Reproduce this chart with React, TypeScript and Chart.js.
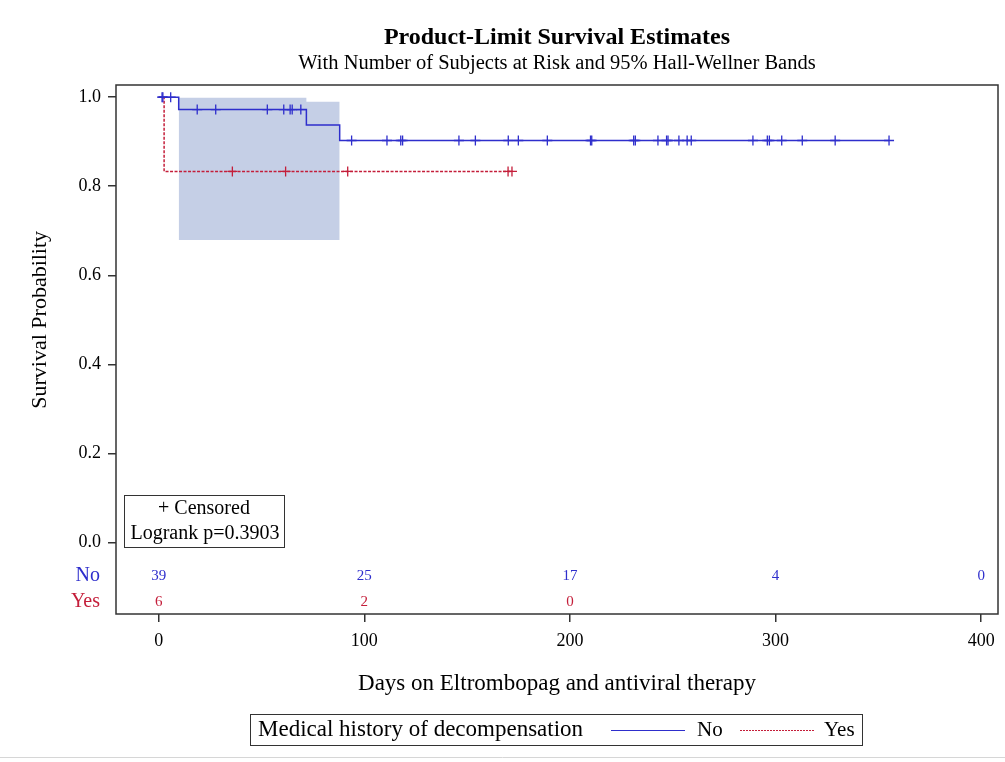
import React, { useEffect, useRef } from 'react';
import { Chart, registerables } from 'chart.js';

Chart.register(...registerables);

const FONT = '"Liberation Serif", "Times New Roman", serif';
const BLUE = '#2e2ecc';
const RED = '#c41e3a';
const BAND = '#c5cfe6';
const FRAME = '#333333';

// Kaplan-Meier: group "No"
const noEventTimes = [0, 9.7, 71.8, 88];
const noSurvival = [1, 0.9722, 0.9375, 0.9028];
const noLastTime = 355.2;
const noCensored = [
  1.6, 2.0, 5.8, 18.7, 27.7, 52.8, 60.8, 63.9, 64.9, 69.1, 93.8, 111, 117.7, 118.6,
  146, 154, 170, 174.9, 189, 210, 210.6, 231, 231.8, 242.8, 247, 247.7, 253, 257, 259,
  289, 296, 297, 303, 313, 329, 355.2,
];

// Kaplan-Meier: group "Yes"
const yesEventTimes = [0, 2.6];
const yesSurvival = [1, 0.8333];
const yesLastTime = 171.8;
const yesCensored = [35.8, 61.7, 91.9, 169.9, 171.8];

// Hall-Wellner band (group "No")
const bandTimes = [9.7, 71.8, 88];
const bandUpper = [0.9987, 0.9897, 0.9897];
const bandLower = [0.679, 0.679, 0.679];

// Axes
const xTicks = [0, 100, 200, 300, 400];
const yTicks = [0, 0.2, 0.4, 0.6, 0.8, 1.0];

// Number at risk
const atRiskTimesNo = [0, 100, 200, 300, 400];
const atRiskNo = [39, 25, 17, 4, 0];
const atRiskTimesYes = [0, 100, 200];
const atRiskYes = [6, 2, 0];

const survAt = (times: number[], surv: number[], t: number) => {
  let s = surv[0];
  for (let i = 0; i < times.length; i++) if (times[i] <= t) s = surv[i];
  return s;
};

const curve = (times: number[], surv: number[], last: number) => [
  ...times.map((t, i) => ({ x: t, y: surv[i] })),
  { x: last, y: surv[surv.length - 1] },
];

const overlayPlugin = {
  id: 'overlay',
  afterDraw(chart: any) {
    const { ctx, chartArea: ca, scales } = chart;
    const xs = scales.x;
    const ys = scales.y;
    ctx.save();

    // frame
    ctx.strokeStyle = FRAME;
    ctx.lineWidth = 1.5;
    ctx.strokeRect(ca.left, ca.top, ca.right - ca.left, ca.bottom - ca.top);

    const cx = (ca.left + ca.right) / 2;
    ctx.fillStyle = '#000';
    ctx.textAlign = 'center';
    ctx.textBaseline = 'middle';
    ctx.font = `bold 24px ${FONT}`;
    ctx.fillText('Product-Limit Survival Estimates', cx, 38);
    ctx.font = `20.5px ${FONT}`;
    ctx.fillText('With Number of Subjects at Risk and 95% Hall-Wellner Bands', cx, 64);

    // axis titles
    ctx.font = `23px ${FONT}`;
    ctx.fillText('Days on Eltrombopag and antiviral therapy', cx, 684);
    ctx.save();
    ctx.font = `22px ${FONT}`;
    ctx.translate(40, (ys.getPixelForValue(0) + ys.getPixelForValue(1)) / 2);
    ctx.rotate(-Math.PI / 2);
    ctx.fillText('Survival Probability', 0, 0);
    ctx.restore();

    // at risk table
    const yNo = ys.getPixelForValue(-0.0753);
    const yYes = ys.getPixelForValue(-0.1338);
    ctx.font = `20px ${FONT}`;
    ctx.textAlign = 'right';
    ctx.fillStyle = BLUE;
    ctx.fillText('No', 100, yNo);
    ctx.fillStyle = RED;
    ctx.fillText('Yes', 100, yYes);
    ctx.font = `15px ${FONT}`;
    ctx.textAlign = 'center';
    ctx.fillStyle = BLUE;
    atRiskTimesNo.forEach((t, i) => ctx.fillText(String(atRiskNo[i]), xs.getPixelForValue(t), yNo));
    ctx.fillStyle = RED;
    atRiskTimesYes.forEach((t, i) => ctx.fillText(String(atRiskYes[i]), xs.getPixelForValue(t), yYes));

    // inset box
    ctx.fillStyle = '#fff';
    ctx.fillRect(124, 495, 160, 52);
    ctx.strokeStyle = FRAME;
    ctx.lineWidth = 1;
    ctx.strokeRect(124.5, 495.5, 160, 52);
    ctx.fillStyle = '#000';
    ctx.font = `20px ${FONT}`;
    ctx.fillText('+ Censored', 204, 509);
    ctx.fillText('Logrank p=0.3903', 205, 534);

    // legend
    ctx.strokeStyle = FRAME;
    ctx.lineWidth = 1;
    ctx.strokeRect(250.5, 714.5, 612, 31);
    ctx.textAlign = 'left';
    ctx.font = `23px ${FONT}`;
    ctx.fillText('Medical history of decompensation', 258, 730);
    ctx.font = `21px ${FONT}`;
    ctx.beginPath();
    ctx.strokeStyle = BLUE;
    ctx.lineWidth = 1.2;
    ctx.moveTo(611, 730.5);
    ctx.lineTo(685, 730.5);
    ctx.stroke();
    ctx.fillText('No', 697, 730);
    ctx.beginPath();
    ctx.strokeStyle = RED;
    ctx.setLineDash([2, 1]);
    ctx.moveTo(740, 730.5);
    ctx.lineTo(815, 730.5);
    ctx.stroke();
    ctx.setLineDash([]);
    ctx.fillText('Yes', 824, 730);

    // bottom separator
    ctx.strokeStyle = '#d6d6d6';
    ctx.lineWidth = 1;
    ctx.beginPath();
    ctx.moveTo(0, 757.5);
    ctx.lineTo(1005, 757.5);
    ctx.stroke();

    ctx.restore();
  },
};

export default function App() {
  const ref = useRef<HTMLCanvasElement | null>(null);

  useEffect(() => {
    if (!ref.current) return;
    const chart = new Chart(ref.current, {
      type: 'line',
      data: {
        datasets: [
          {
            label: 'bandUpper',
            data: bandTimes.map((t, i) => ({ x: t, y: bandUpper[i] })),
            stepped: true,
            borderWidth: 0,
            borderColor: 'rgba(0,0,0,0)',
            backgroundColor: BAND,
            pointRadius: 0,
            fill: '+1',
            order: 10,
          },
          {
            label: 'bandLower',
            data: bandTimes.map((t, i) => ({ x: t, y: bandLower[i] })),
            stepped: true,
            borderWidth: 0,
            borderColor: 'rgba(0,0,0,0)',
            pointRadius: 0,
            fill: false,
            order: 11,
          },
          {
            label: 'No',
            data: curve(noEventTimes, noSurvival, noLastTime),
            stepped: true,
            borderColor: BLUE,
            borderWidth: 1.5,
            pointRadius: 0,
            fill: false,
            order: 2,
          },
          {
            label: 'Yes',
            data: curve(yesEventTimes, yesSurvival, yesLastTime),
            stepped: true,
            borderColor: RED,
            borderWidth: 1.5,
            borderDash: [3, 1.5],
            pointRadius: 0,
            fill: false,
            order: 3,
          },
          {
            label: 'No censored',
            data: noCensored.map((t) => ({ x: t, y: survAt(noEventTimes, noSurvival, t) })),
            showLine: false,
            pointStyle: 'cross',
            pointRadius: 5,
            pointBorderWidth: 1.3,
            pointBorderColor: BLUE,
            borderColor: BLUE,
            order: 0,
          },
          {
            label: 'Yes censored',
            data: yesCensored.map((t) => ({ x: t, y: survAt(yesEventTimes, yesSurvival, t) })),
            showLine: false,
            pointStyle: 'cross',
            pointRadius: 5,
            pointBorderWidth: 1.3,
            pointBorderColor: RED,
            borderColor: RED,
            order: 1,
          },
        ],
      },
      options: {
        animation: false,
        responsive: false,
        devicePixelRatio: 1,
        layout: { padding: { top: 85, right: 7, bottom: 0, left: 0 } },
        plugins: {
          legend: { display: false },
          title: { display: false },
          tooltip: { enabled: false },
        },
        scales: {
          x: {
            type: 'linear',
            min: -20.8,
            max: 408.2,
            afterBuildTicks: (s: any) => {
              s.ticks = xTicks.map((v) => ({ value: v }));
            },
            afterFit: (s: any) => {
              s.height = 148;
            },
            grid: { drawOnChartArea: false, drawTicks: true, tickLength: 8, color: FRAME, lineWidth: 1.5 },
            border: { display: false },
            ticks: {
              font: { family: FONT, size: 18 },
              color: '#000',
              padding: 8,
              maxRotation: 0,
              autoSkip: false,
              callback: (v: any) => String(v),
            },
          },
          y: {
            type: 'linear',
            min: -0.1607,
            max: 1.0274,
            afterBuildTicks: (s: any) => {
              s.ticks = yTicks.map((v) => ({ value: v }));
            },
            afterFit: (s: any) => {
              s.width = 116;
            },
            grid: { drawOnChartArea: false, drawTicks: true, tickLength: 8, color: FRAME, lineWidth: 1.5 },
            border: { display: false },
            ticks: {
              font: { family: FONT, size: 18 },
              color: '#000',
              padding: 7,
              autoSkip: false,
              callback: (v: any) => Number(v).toFixed(1),
            },
          },
        },
      },
      plugins: [overlayPlugin],
    } as any);
    return () => chart.destroy();
  }, []);

  return (
    <div style={{ position: 'absolute', left: 0, top: 0, width: 1005, height: 762, background: '#fff' }}>
      <canvas ref={ref} width={1005} height={762} style={{ display: 'block' }} />
    </div>
  );
}
